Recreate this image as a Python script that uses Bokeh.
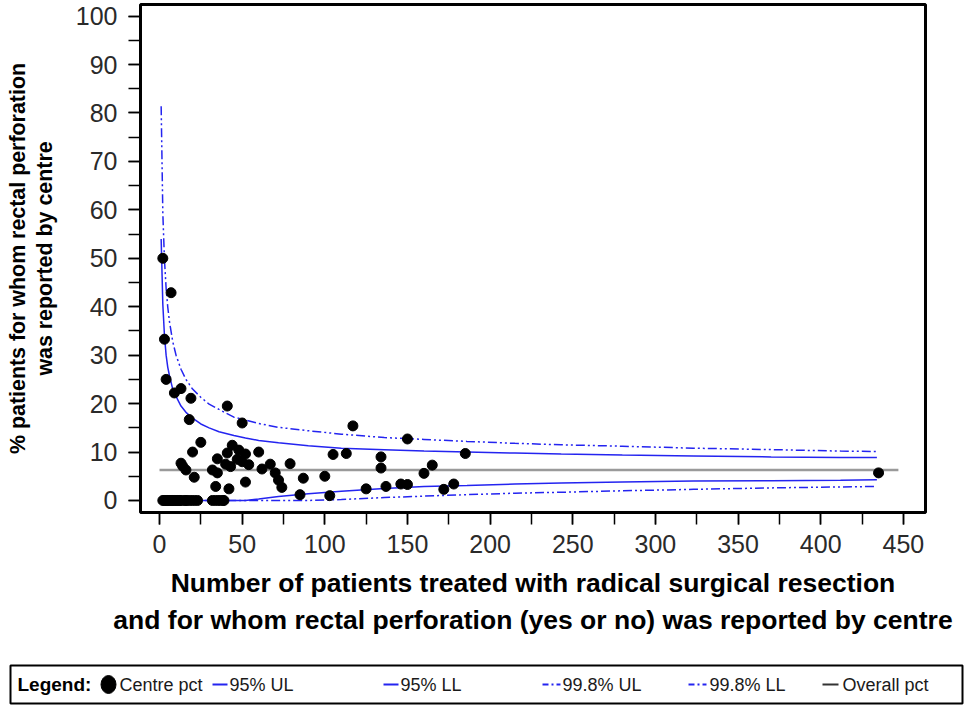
from bokeh.plotting import figure
from bokeh.models import Range1d, LinearAxis, SingleIntervalTicker, FixedTicker, ColumnDataSource
from bokeh.core.properties import value
from bokeh.embed import file_html
from bokeh.resources import INLINE

# ---------------- data ----------------
centre_n = [2, 3, 4, 7, 9, 13, 18, 19, 41, 50, 117, 150,
            13, 14, 16, 21, 20, 25, 32, 35, 34, 35, 41, 43, 40, 44, 42, 47, 48, 50,
            52, 52, 54, 60, 62, 67, 70, 72, 74, 79, 87, 85, 100, 103, 105, 113,
            125, 134, 134, 137, 146, 150, 160, 165, 172, 178, 185, 435,
            2, 3, 4, 5, 6, 7, 8, 9, 10, 11, 12, 13, 15, 16, 17, 19, 21, 23,
            32, 34, 36, 38, 39]
centre_pct = [50.0, 33.3, 25.0, 42.9, 22.2, 23.1, 16.7, 21.1, 19.5, 16.0, 15.4, 12.7,
              7.7, 7.1, 6.3, 4.8, 10.0, 12.0, 6.3, 5.7, 2.9, 8.6, 9.8, 7.0, 7.5, 11.4, 2.4, 8.5, 10.4, 8.0,
              9.6, 3.8, 7.4, 10.0, 6.5, 7.5, 5.7, 4.2, 2.7, 7.6, 4.6, 1.2, 5.0, 1.0, 9.5, 9.7,
              2.4, 9.0, 6.7, 2.9, 3.4, 3.3, 5.6, 7.3, 2.3, 3.4, 9.7, 5.7,
              0, 0, 0, 0, 0, 0, 0, 0, 0, 0, 0, 0, 0, 0, 0, 0, 0, 0,
              0, 0, 0, 0, 0]

limit_n = [1, 2, 3, 4, 5, 6, 8, 10, 13, 16, 20, 25, 30, 36, 45, 52, 60, 72, 90,
           110, 136, 160, 186, 215, 243, 280, 323, 370, 412, 434]
ul95 = [54.0, 40.5, 34.0, 30.0, 27.5, 25.8, 23.0, 21.5, 19.5, 18.2, 17.0, 15.8, 15.0,
        14.2, 13.4, 12.9, 12.4, 11.9, 11.3, 10.8, 10.5, 10.2, 10.0, 9.8, 9.6, 9.4,
        9.2, 9.0, 8.9, 8.9]
ll95 = [0, 0, 0, 0, 0, 0, 0, 0, 0, 0, 0, 0, 0, 0, 0, 0, 0.3, 0.8, 1.4, 1.9, 2.5,
        2.9, 3.1, 3.4, 3.6, 3.8, 4.0, 4.1, 4.2, 4.3]
ul998 = [81.4, 59.4, 49.7, 43.8, 39.9, 37.0, 32.8, 30.0, 27.1, 25.0, 23.0, 21.3, 19.9,
         18.8, 17.2, 16.6, 15.9, 15.1, 14.4, 13.7, 13.0, 12.6, 12.2, 11.8, 11.5, 11.2,
         10.8, 10.5, 10.2, 10.1]
ll998 = [0, 0, 0, 0, 0, 0, 0, 0, 0, 0, 0, 0, 0, 0, 0, 0, 0, 0, 0, 0.2, 0.6, 0.9,
         1.2, 1.5, 1.7, 2.0, 2.3, 2.6, 2.8, 2.9]
overall_n = [0, 447]
overall_pct = [6.3, 6.3]

x_title_1 = "Number of patients treated with radical surgical resection"
x_title_2 = "and for whom rectal perforation (yes or no) was reported by centre"
y_title_1 = "% patients for whom rectal perforation"
y_title_2 = "was reported by centre"

legend_title = "Legend:"
legend_labels = ["Centre pct", "95% UL", "95% LL", "99.8% UL", "99.8% LL", "Overall pct"]

# ---------------- main plot ----------------
FONT = "Liberation Sans"
BLUE = "#2424F0"
DASHDOT = "9 3 2 3 2 3"

# frame: left 140, right 925, top 4, bottom 512 (page pixels)
p = figure(width=966, height=660,
           x_range=Range1d(-11.5, 463.4), y_range=Range1d(-2.48, 102.4),
           output_backend="svg", toolbar_location=None,
           min_border_left=140, min_border_right=41, min_border_top=4,
           min_border_bottom=148)
p.grid.visible = False
p.outline_line_color = "black"
p.outline_line_width = 3
p.outline_line_alpha = 1.0

src_lim = ColumnDataSource(dict(n=limit_n, ul95=ul95, ll95=ll95, ul998=ul998, ll998=ll998))
p.line("n", "ul998", source=src_lim, line_color=BLUE, line_width=1.5, line_dash=DASHDOT)
p.line("n", "ll998", source=src_lim, line_color=BLUE, line_width=1.5, line_dash=DASHDOT)
p.line("n", "ul95", source=src_lim, line_color=BLUE, line_width=1.5)
p.line("n", "ll95", source=src_lim, line_color=BLUE, line_width=1.5)
p.line(overall_n, overall_pct, line_color="#9a9a9a", line_width=2.5)
p.scatter(centre_n, centre_pct, size=10, marker="circle", fill_color="black", line_color="black")

def style_axis(ax):
    ax.axis_line_color = None
    ax.major_tick_in = 0
    ax.minor_tick_in = 0
    ax.major_tick_out = 12
    ax.minor_tick_out = 12
    ax.major_tick_line_color = "black"
    ax.minor_tick_line_color = "black"
    ax.major_tick_line_width = 1.5
    ax.minor_tick_line_width = 1.5
    ax.major_label_text_font = FONT
    ax.major_label_text_font_size = "25px"
    ax.major_label_text_color = "#2a2a2a"
    ax.axis_label_text_font = FONT
    ax.axis_label_text_font_style = "bold"
    ax.axis_label_text_color = "black"

xa = p.xaxis[0]
style_axis(xa)
xa.ticker = SingleIntervalTicker(interval=50, num_minor_ticks=2)
xa.major_label_standoff = 10
xa.axis_label = x_title_1
xa.axis_label_text_font_size = "26.5px"
xa.axis_label_standoff = 12

ya = p.yaxis[0]
style_axis(ya)
ya.ticker = SingleIntervalTicker(interval=10, num_minor_ticks=2)
ya.major_label_standoff = 11
ya.axis_label = y_title_2
ya.axis_label_text_font_size = "21.4px"
ya.axis_label_standoff = 16

def extra_axis(label, size, standoff):
    ax = LinearAxis(ticker=FixedTicker(ticks=[]), axis_label=label)
    ax.axis_line_color = None
    ax.major_tick_out = 0
    ax.major_tick_in = 0
    ax.minor_tick_out = 0
    ax.minor_tick_in = 0
    ax.major_label_text_font_size = "0px"
    ax.major_label_standoff = 0
    ax.axis_label_text_font = FONT
    ax.axis_label_text_font_style = "bold"
    ax.axis_label_text_font_size = size
    ax.axis_label_text_color = "black"
    ax.axis_label_standoff = standoff
    return ax

p.add_layout(extra_axis(x_title_2, "26.5px", 4), "below")
p.add_layout(extra_axis(y_title_1, "21.4px", 0), "left")

# ---------------- legend strip (own figure, 1 unit = 1 pixel, y downwards) ----------------
lf = figure(width=966, height=46, x_range=Range1d(0, 966), y_range=Range1d(46, 0),
            output_backend="svg", toolbar_location=None,
            x_axis_location=None, y_axis_location=None, min_border=0)
lf.grid.visible = False
lf.outline_line_color = None

YC = 24
lf.quad(left=[10], right=[962], top=[5], bottom=[43], fill_alpha=0,
        line_color="black", line_width=2)
lf.text(x=[17], y=[YC], text=[legend_title], text_font=value(FONT), text_font_style="bold",
        text_font_size="19px", text_baseline="middle", text_color="black")
lf.ellipse(x=[108], y=[YC], width=15, height=18, fill_color="black", line_color="black")
lf.text(x=[119, 229, 400, 562, 709, 842], y=[YC] * 6, text=legend_labels,
        text_font=value(FONT), text_font_size="18px", text_baseline="middle", text_color="#1a1a1a")
lf.segment(x0=[212, 383], y0=[YC, YC], x1=[227, 398], y1=[YC, YC], line_color=BLUE, line_width=2)
lf.segment(x0=[542, 688], y0=[YC, YC], x1=[560, 706], y1=[YC, YC], line_color=BLUE, line_width=2,
           line_dash="6 3 2 3")
lf.segment(x0=[822], y0=[YC], x1=[838], y1=[YC], line_color="#333333", line_width=2)

open("out.html", "w").write(file_html([p, lf], INLINE))
